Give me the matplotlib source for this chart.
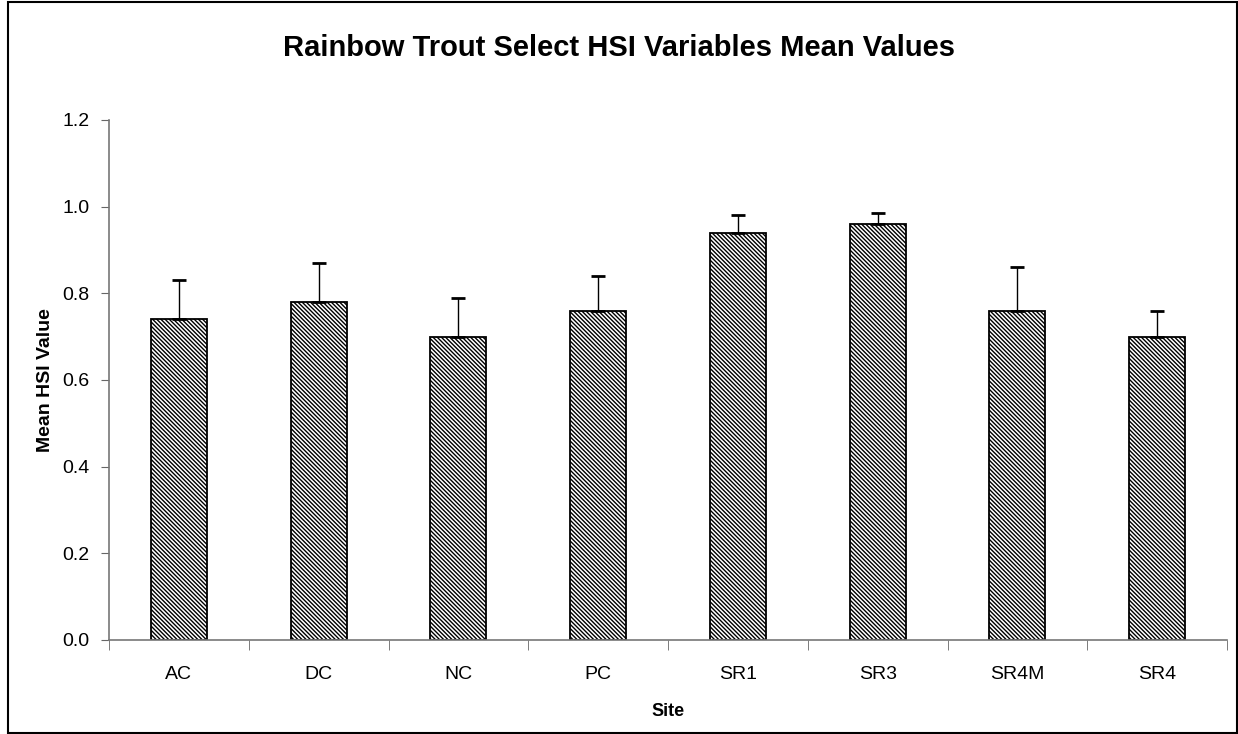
import matplotlib
matplotlib.use("Agg")
import matplotlib.pyplot as plt
from matplotlib.patches import Rectangle

sites = ["AC", "DC", "NC", "PC", "SR1", "SR3", "SR4M", "SR4"]
means = [0.74, 0.78, 0.70, 0.76, 0.94, 0.96, 0.76, 0.70]
errors = [0.09, 0.09, 0.09, 0.08, 0.04, 0.025, 0.10, 0.06]
yticks = [0.0, 0.2, 0.4, 0.6, 0.8, 1.0, 1.2]

plt.rcParams['font.family'] = ['Liberation Sans', 'DejaVu Sans']
plt.rcParams['hatch.linewidth'] = 1.0
plt.rcParams['hatch.color'] = '#4a4a4a'

W, H = 1238, 734
fig = plt.figure(figsize=(W / 100, H / 100), dpi=100)
ax = fig.add_axes([109 / W, 1 - 640 / H, (1227 - 109) / W, (640 - 120) / H])

x = list(range(len(sites)))
ax.bar(x, means, width=0.4, color='white', edgecolor='black', linewidth=1.3,
       hatch='\\' * 8, zorder=2)
ax.errorbar(x, means, yerr=[[0] * len(errors), errors], fmt='none',
            ecolor='black', elinewidth=1.0, capsize=5, capthick=2, zorder=3)

ax.set_xlim(-0.5, len(sites) - 0.5)
ax.set_ylim(0, 1.2)
ax.set_yticks(yticks)
ax.set_yticklabels([f"{v:.1f}" for v in yticks], fontsize=14)
ax.set_xticks(x)
ax.set_xticklabels(sites, fontsize=14)
ax.tick_params(axis='x', length=0, pad=19)
ax.set_xticks([i + 0.5 for i in range(-1, len(sites))], minor=True)
ax.tick_params(axis='x', which='minor', length=7, direction='out', color='#666666')
ax.tick_params(axis='y', length=6, direction='out', color='#666666', pad=8)

for s in ['top', 'right']:
    ax.spines[s].set_visible(False)
for s in ['left', 'bottom']:
    ax.spines[s].set_color('#777777')
    ax.spines[s].set_linewidth(1.2)

ax.set_xlabel("Site", fontsize=13, fontweight='bold', labelpad=14)
ax.set_ylabel("Mean HSI Value", fontsize=14, fontweight='bold', labelpad=6)

fig.text(0.5, 1 - 48 / H, "Rainbow Trout Select HSI Variables Mean Values",
         ha='center', va='center', fontsize=21, fontweight='bold')

fig.patches.append(Rectangle((8 / W, 1 / H), (W - 9) / W, (H - 3) / H,
                             transform=fig.transFigure, fill=False,
                             edgecolor='black', linewidth=1.5))

fig.savefig("out.png", dpi=100)
